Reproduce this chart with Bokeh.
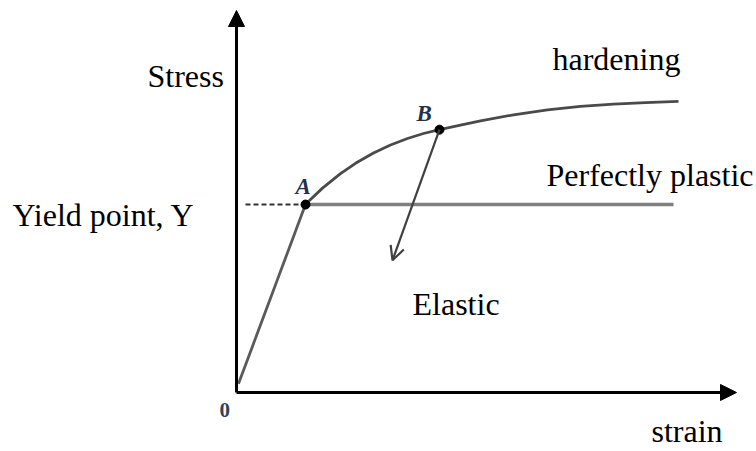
from bokeh.plotting import figure
from bokeh.models import Range1d, Arrow, NormalHead, OpenHead, ColumnDataSource
from bokeh.core.properties import value
from bokeh.embed import file_html
from bokeh.resources import INLINE

# ---- data (strain / stress, arbitrary normalised units) ----
axis_x = [0.0, 0.0]          # stress axis: strain start/end
axis_y = [0.0, 1.0]          # stress axis: stress start/end
xaxis_x = [0.0, 1.0]
xaxis_y = [0.0, 0.0]

elastic_strain = [0.004, 0.138]
elastic_stress = [0.023, 0.492]

hard_strain = [0.138, 0.148, 0.172, 0.208, 0.238, 0.274, 0.308, 0.342, 0.374, 0.406,
               0.448, 0.488, 0.554, 0.622, 0.688, 0.754, 0.818, 0.884]
hard_stress = [0.492, 0.505, 0.535, 0.573, 0.600, 0.627, 0.648, 0.665, 0.678, 0.688,
               0.700, 0.711, 0.727, 0.740, 0.749, 0.755, 0.759, 0.762]

plastic_strain = [0.138, 0.874]
plastic_stress = [0.492, 0.492]

yield_dash_strain = [0.018, 0.138]
yield_dash_stress = [0.492, 0.492]

points_strain = [0.138, 0.406]
points_stress = [0.492, 0.688]

unload_start = (0.406, 0.688)
unload_end = (0.312, 0.346)

label_text = ["Stress", "hardening", "Perfectly plastic", "Yield point, Y", "Elastic", "strain"]
label_x = [-0.178, 0.632, 0.620, -0.448, 0.352, 0.830]
label_y = [0.806, 0.850, 0.547, 0.442, 0.207, -0.124]

pt_text = ["A", "B"]
pt_x = [0.118, 0.360]
pt_y = [0.521, 0.712]

zero_text = ["0"]
zero_x = [-0.034]
zero_y = [-0.063]

# ---- figure ----
p = figure(width=756, height=451, output_backend="svg", toolbar_location=None,
           x_range=Range1d(-0.472, 1.04), y_range=Range1d(-0.1545, 1.0262),
           x_axis_location=None, y_axis_location=None, min_border=0)
p.outline_line_color = None
p.xgrid.visible = False
p.ygrid.visible = False
p.background_fill_color = "white"
p.border_fill_color = "white"

# axes with arrowheads
p.add_layout(Arrow(x_start=axis_x[0], y_start=axis_y[0], x_end=axis_x[1], y_end=axis_y[1],
                   line_color="black", line_width=3,
                   end=NormalHead(size=16, fill_color="black", line_color="black")))
p.add_layout(Arrow(x_start=xaxis_x[0], y_start=xaxis_y[0], x_end=xaxis_x[1], y_end=xaxis_y[1],
                   line_color="black", line_width=3,
                   end=NormalHead(size=16, fill_color="black", line_color="black")))

# curves
p.line(elastic_strain, elastic_stress, line_color="#5a5a5a", line_width=2.8)
p.line(plastic_strain, plastic_stress, line_color="#808080", line_width=3.4)
p.line(hard_strain, hard_stress, line_color="#4a4a4a", line_width=2.8)
p.line(yield_dash_strain, yield_dash_stress, line_color="#333333", line_width=2, line_dash="5 3")

# unloading arrow
p.add_layout(Arrow(x_start=unload_start[0], y_start=unload_start[1],
                   x_end=unload_end[0], y_end=unload_end[1],
                   line_color="#404040", line_width=2.2,
                   end=OpenHead(size=14, line_color="#404040", line_width=2.2)))

p.scatter(points_strain, points_stress, size=9, color="black")

src = ColumnDataSource(dict(x=label_x, y=label_y, t=label_text))
p.text("x", "y", text="t", source=src, text_font=value("Liberation Serif"),
       text_font_size=value("32px"), text_color="black",
       text_align="left", text_baseline="alphabetic", y_offset=-9)

p.text(pt_x, pt_y, text=pt_text, text_font=value("Liberation Serif"),
       text_font_size=value("23px"), text_font_style="bold italic",
       text_color="#24304a", text_align="left", text_baseline="alphabetic", y_offset=-7)

p.text(zero_x, zero_y, text=zero_text, text_font=value("Liberation Serif"),
       text_font_size=value("21px"), text_font_style="bold",
       text_color="#33415c", text_align="left", text_baseline="alphabetic", y_offset=-7)

open("out.html", "w").write(file_html(p, INLINE))
